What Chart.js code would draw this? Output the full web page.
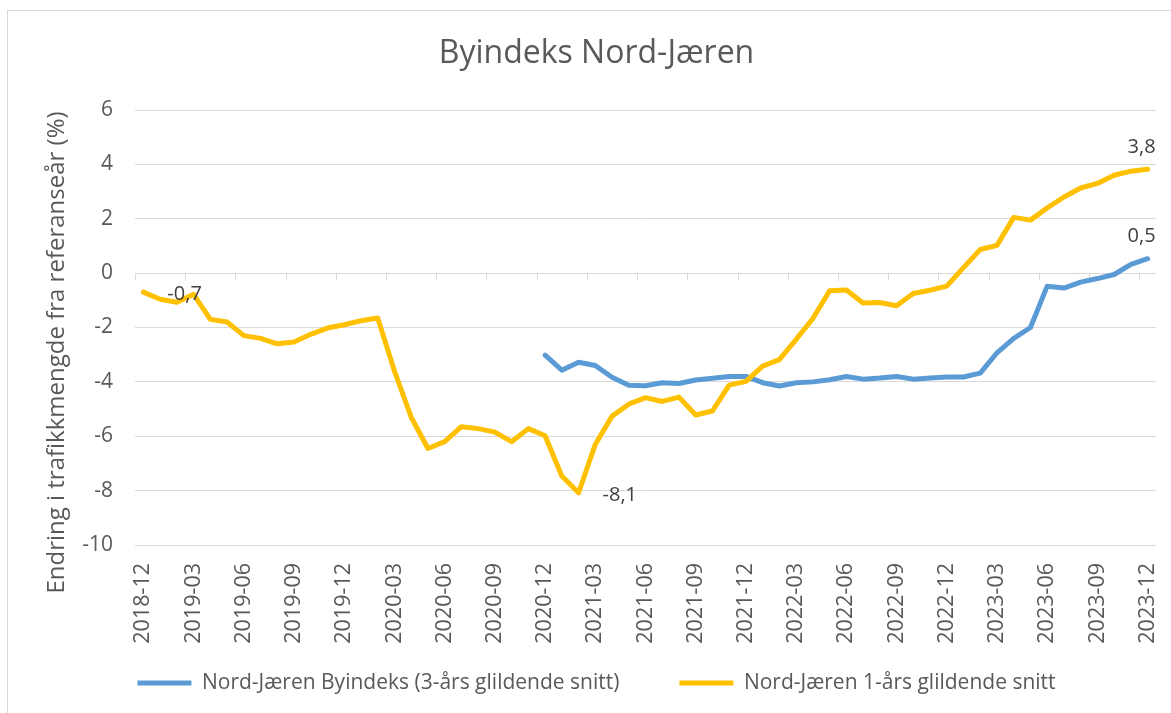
<!DOCTYPE html>
<html>
<head>
<meta charset="utf-8">
<script src="https://cdn.jsdelivr.net/npm/chart.js@4.4.0/dist/chart.umd.min.js"></script>
<style>
html, body { margin: 0; padding: 0; background: #ffffff; }
#wrap { position: relative; width: 1171px; height: 713px; overflow: hidden; }
#frame { position: absolute; left: 7px; top: 10px; right: -2px; bottom: -2px; border-left: 1px solid #d9d9d9; border-top: 1px solid #d9d9d9; pointer-events: none; }
canvas { position: absolute; left: 0; top: 0; }
</style>
</head>
<body>
<div id="wrap">
  <canvas id="c" width="1171" height="713"></canvas>
  <div id="frame"></div>
</div>
<script>
// ---------- DATA ----------
const chartTitle = 'Byindeks Nord-Jæren';
const yAxisTitle = 'Endring i trafikkmengde fra referanseår (%)';
const seriesNames = ['Nord-Jæren Byindeks (3-års glildende snitt)', 'Nord-Jæren 1-års glildende snitt'];

const categories = [
  '2018-12',
  '2019-01','2019-02','2019-03','2019-04','2019-05','2019-06','2019-07','2019-08','2019-09','2019-10','2019-11','2019-12',
  '2020-01','2020-02','2020-03','2020-04','2020-05','2020-06','2020-07','2020-08','2020-09','2020-10','2020-11','2020-12',
  '2021-01','2021-02','2021-03','2021-04','2021-05','2021-06','2021-07','2021-08','2021-09','2021-10','2021-11','2021-12',
  '2022-01','2022-02','2022-03','2022-04','2022-05','2022-06','2022-07','2022-08','2022-09','2022-10','2022-11','2022-12',
  '2023-01','2023-02','2023-03','2023-04','2023-05','2023-06','2023-07','2023-08','2023-09','2023-10','2023-11','2023-12'
];

// 3-års glidende snitt (starts 2020-12)
const byindeks3 = [
  null,
  null, null, null, null, null, null, null, null, null, null, null, null,
  null, null, null, null, null, null, null, null, null, null, null, -3.02,
  -3.57, -3.28, -3.40, -3.83, -4.12, -4.14, -4.03, -4.06, -3.93, -3.87, -3.80, -3.80,
  -4.03, -4.15, -4.03, -4.00, -3.92, -3.80, -3.90, -3.86, -3.80, -3.90, -3.86, -3.82,
  -3.82, -3.68, -2.93, -2.40, -2.00, -0.48, -0.55, -0.33, -0.20, -0.05, 0.32, 0.53
];

// 1-års glidende snitt
const glidende1 = [
  -0.70,
  -0.96, -1.07, -0.78, -1.70, -1.80, -2.30, -2.40, -2.60, -2.53, -2.25, -2.02, -1.90,
  -1.75, -1.65, -3.60, -5.30, -6.45, -6.20, -5.65, -5.72, -5.85, -6.20, -5.72, -5.98,
  -7.46, -8.08, -6.30, -5.26, -4.82, -4.58, -4.72, -4.56, -5.22, -5.07, -4.12, -3.98,
  -3.42, -3.18, -2.44, -1.67, -0.65, -0.62, -1.10, -1.08, -1.20, -0.75, -0.63, -0.48,
  0.20, 0.87, 1.02, 2.05, 1.95, 2.40, 2.80, 3.13, 3.30, 3.60, 3.75, 3.82
];

const yMin = -10, yMax = 6, yStep = 2;
const xLabelEvery = 3;

// which points carry a value label: [series index, point index, placement]
const labelledPoints = [
  [1, 0, 'right'],
  [1, 26, 'right'],
  [1, 60, 'above'],
  [0, 60, 'above']
];

// ---------- STYLE ----------
const FONT = "'Open Sans', 'Noto Sans', sans-serif";
const TEXT = '#595959';
const GRID = '#d9d9d9';
const BLUE = '#5B9BD5';
const YELLOW = '#FFC000';

// let the rotated category labels run past the (short) x-axis box,
// and nudge the y-axis title down a little
const axisTweaks = {
  id: 'axisTweaks',
  beforeDraw(chart) {
    const xs = chart.scales.x;
    if (xs) xs._computeLabelArea = () => undefined;
    const ys = chart.scales.y;
    if (ys && !ys._titleShifted) {
      const orig = ys.drawTitle;
      ys.drawTitle = function () {
        this.ctx.save();
        this.ctx.translate(0, 25);
        orig.call(this);
        this.ctx.restore();
      };
      ys._titleShifted = true;
    }
  }
};

const zeroAxisTicks = {
  id: 'zeroAxisTicks',
  beforeDatasetsDraw(chart) {
    const xs = chart.scales.x, ys = chart.scales.y, ctx = chart.ctx;
    const y0 = Math.round(ys.getPixelForValue(0)) + 0.5;
    const half = (xs.getPixelForValue(1) - xs.getPixelForValue(0)) / 2;
    ctx.save();
    ctx.strokeStyle = GRID;
    ctx.lineWidth = 1;
    ctx.beginPath();
    for (let i = 0; i < categories.length; i += xLabelEvery) {
      const px = Math.round(xs.getPixelForValue(i) - half) + 0.5;
      ctx.moveTo(px, y0);
      ctx.lineTo(px, y0 + 7);
    }
    ctx.stroke();
    ctx.restore();
  }
};

const valueLabels = {
  id: 'valueLabels',
  afterDatasetsDraw(chart) {
    const ctx = chart.ctx;
    ctx.save();
    ctx.fillStyle = '#404040';
    ctx.font = '20px ' + FONT;
    ctx.textBaseline = 'middle';
    labelledPoints.forEach(([s, i, place]) => {
      const el = chart.getDatasetMeta(s).data[i];
      const v = chart.data.datasets[s].data[i];
      if (!el || v == null) return;
      const txt = v.toFixed(1).replace('.', ',');
      if (place === 'right') {
        ctx.textAlign = 'left';
        ctx.fillText(txt, el.x + 24, el.y + 2);
      } else {
        ctx.textAlign = 'center';
        ctx.fillText(txt, el.x - 6, el.y - 22);
      }
    });
    ctx.restore();
  }
};

const ctx = document.getElementById('c').getContext('2d');
new Chart(ctx, {
  type: 'line',
  data: {
    labels: categories,
    datasets: [
      {
        label: seriesNames[0], data: byindeks3,
        borderColor: BLUE, backgroundColor: BLUE, borderWidth: 5,
        pointRadius: 0, pointHoverRadius: 0, tension: 0,
        borderCapStyle: 'round', borderJoinStyle: 'round', fill: false, order: 1
      },
      {
        label: seriesNames[1], data: glidende1,
        borderColor: YELLOW, backgroundColor: YELLOW, borderWidth: 5,
        pointRadius: 0, pointHoverRadius: 0, tension: 0,
        borderCapStyle: 'round', borderJoinStyle: 'round', fill: false, order: 0
      }
    ]
  },
  options: {
    responsive: false,
    animation: false,
    devicePixelRatio: 1,
    layout: { padding: { left: 37, right: 15, top: 0, bottom: 9.5 } },
    plugins: {
      title: {
        display: true, text: chartTitle, color: TEXT,
        font: { family: FONT, size: 32, weight: 'normal' },
        padding: { top: 35, bottom: 36.6 }
      },
      legend: {
        position: 'bottom',
        labels: {
          usePointStyle: true, pointStyle: 'line', pointStyleWidth: 54,
          padding: 60, color: TEXT,
          font: { family: FONT, size: 21 },
          sort: (a, b) => a.datasetIndex - b.datasetIndex
        }
      },
      tooltip: { enabled: false }
    },
    scales: {
      x: {
        offset: true,
        grid: { display: false, drawTicks: false, offset: true },
        border: { display: false },
        ticks: {
          autoSkip: false, maxRotation: 90, minRotation: 90, padding: 18,
          color: TEXT, font: { family: FONT, size: 21.5 },
          callback: (v, i) => (i % xLabelEvery === 0 ? categories[i] : '')
        },
        afterFit: (s) => { s.height = 67.5; s.paddingLeft = 0; s.paddingRight = 0; }
      },
      y: {
        min: yMin, max: yMax,
        ticks: { stepSize: yStep, padding: 22, color: TEXT, font: { family: FONT, size: 21 } },
        grid: { color: GRID, lineWidth: 1, drawTicks: false },
        border: { display: false },
        title: {
          display: true, text: yAxisTitle, color: TEXT,
          font: { family: FONT, size: 24 },
          padding: { top: 5.6, bottom: 0 }
        },
        afterFit: (s) => { s.width = 98; }
      }
    }
  },
  plugins: [axisTweaks, zeroAxisTicks, valueLabels]
});
</script>
</body>
</html>
